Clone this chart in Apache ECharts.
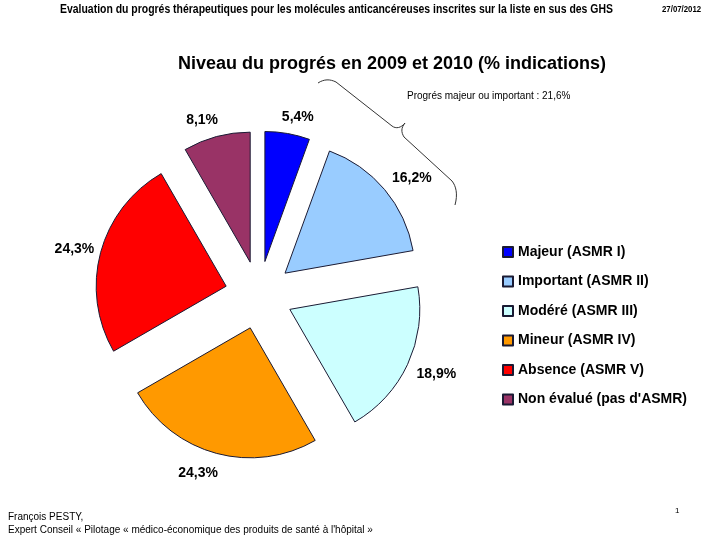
<!DOCTYPE html>
<html><head><meta charset="utf-8">
<script src="https://cdn.jsdelivr.net/npm/echarts@6/dist/echarts.min.js"></script>
<style>html,body{margin:0;padding:0;background:#fff}#c{width:720px;height:540px}</style>
</head><body><div id="c"></div>
<script>
const categories = ['Majeur (ASMR I)', 'Important (ASMR II)', 'Modéré (ASMR III)', 'Mineur (ASMR IV)', 'Absence (ASMR V)', "Non évalué (pas d'ASMR)"];
const values = [5.4, 16.2, 18.9, 24.3, 24.3, 8.1];
const colors = ['#0000FF', '#99CCFF', '#CCFFFF', '#FF9900', '#FF0000', '#993366'];

const fmt = v => v.toFixed(1).replace('.', ',') + '%';
const center = [259, 295];
// label nudges (style only)
const labelNudge = [[6, 8], [8, 5], [6, -1], [-12, -4], [-2, 3], [-8, 8]];
const braceStyle = {fill: 'none', stroke: '#333', lineWidth: 1};
const bz = (x1, y1, cpx1, cpy1, cpx2, cpy2, x2, y2) => ({type: 'bezierCurve', silent: true, shape: {x1, y1, cpx1, cpy1, cpx2, cpy2, x2, y2}, style: braceStyle});
const ln = (x1, y1, x2, y2) => ({type: 'line', silent: true, shape: {x1, y1, x2, y2}, style: braceStyle});

const chart = echarts.init(document.getElementById('c'));
chart.setOption({
  animation: false,
  title: [{
    text: 'Niveau du progrés en 2009 et 2010 (% indications)',
    left: 387, top: 50, textAlign: 'center',
    textStyle: {fontFamily: 'Liberation Sans', fontSize: 18, fontWeight: 'bold', color: '#000'}
  }],
  legend: {
    orient: 'vertical', left: 502, top: 244, padding: 0,
    icon: 'rect', itemWidth: 10, itemHeight: 10, itemGap: 13.5,
    data: categories,
    selectedMode: false,
    textStyle: {fontFamily: 'Liberation Sans', fontSize: 14, fontWeight: 'bold', color: '#000', lineHeight: 16}
  },
  series: [{
    type: 'pie',
    center: center, radius: [0, 130],
    startAngle: 90, clockwise: true,
    selectedMode: 'multiple', selectedOffset: 34,
    label: {show: false}, labelLine: {show: false},
    emphasis: {disabled: true},
    itemStyle: {borderColor: '#1a1a33', borderWidth: 1},
    data: categories.map((n, i) => ({name: n, value: values[i], selected: true, itemStyle: {color: colors[i]}}))
  }, {
    type: 'pie', silent: true,
    center: center, radius: [176, 196],
    startAngle: 90, clockwise: true,
    emphasis: {disabled: true},
    itemStyle: {color: 'rgba(0,0,0,0)', borderWidth: 0},
    label: {show: true, position: 'inside', formatter: p => fmt(p.value),
      fontFamily: 'Liberation Sans', fontSize: 14, fontWeight: 'bold', color: '#000'},
    labelLine: {show: false},
    data: categories.map((n, i) => ({name: n, value: values[i], label: {offset: labelNudge[i]}}))
  }],
  graphic: [
    {type: 'text', x: 60, y: 4, scaleX: 0.87, style: {text: 'Evaluation du progrés thérapeutiques pour les molécules anticancéreuses inscrites sur la liste en sus des GHS', font: 'bold 12px "Liberation Sans"', fill: '#000'}},
    {type: 'text', x: 662, y: 5, scaleX: 0.87, style: {text: '27/07/2012', font: 'bold 9px "Liberation Sans"', fill: '#000'}},
    {type: 'text', x: 407, y: 91, style: {text: 'Progrés majeur ou important : 21,6%', font: '10px "Liberation Sans"', fill: '#000'}},
    bz(318, 83, 324, 79, 330, 79, 336, 82),
    ln(336, 82, 392, 126),
    bz(392, 126, 396, 129, 401, 128, 405, 123),
    bz(405, 123, 401, 128, 401, 132, 404, 137),
    ln(404, 137, 452, 181),
    bz(452, 181, 456, 186, 458, 194, 455, 205),
    {type: 'text', x: 8, y: 512, style: {text: 'François PESTY,', font: '10px "Liberation Sans"', fill: '#000'}},
    {type: 'text', x: 8, y: 525, style: {text: "Expert Conseil « Pilotage « médico-économique des produits de santé à l'hôpital »", font: '10px "Liberation Sans"', fill: '#000'}},
    {type: 'text', x: 675, y: 507, style: {text: '1', font: '8px "Liberation Sans"', fill: '#000'}}
  ]
});
</script></body></html>
